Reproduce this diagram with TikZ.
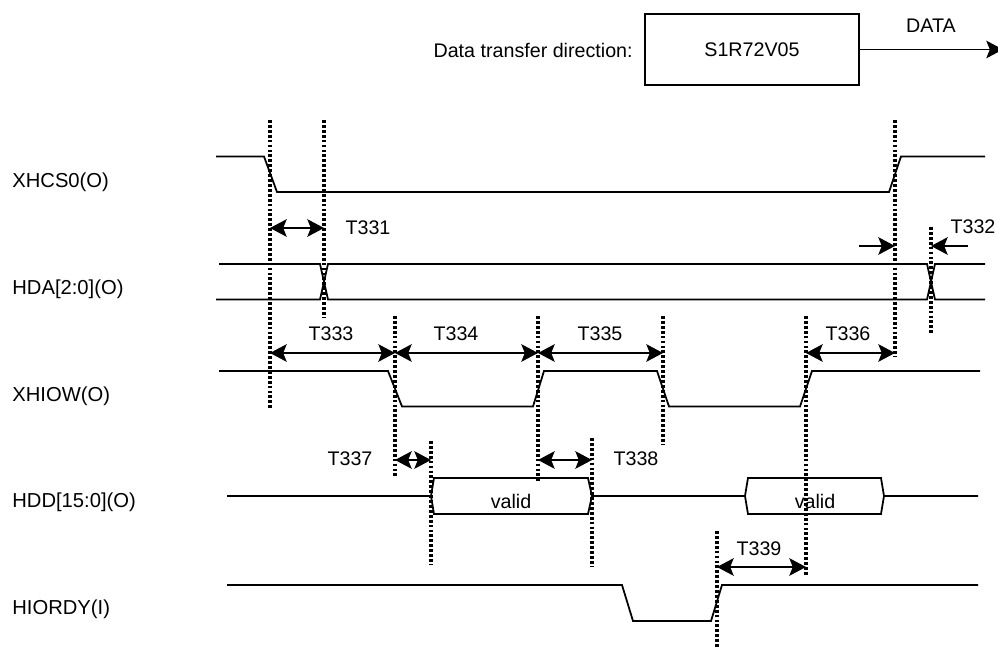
\documentclass[tikz,border=0pt]{standalone}
\usepackage{fontspec}
\setmainfont{Liberation Sans}
\usetikzlibrary{arrows.meta,positioning}
\tikzset{
  signal/.style={line width=1pt, line join=miter},
  guide/.style={line width=1.85pt, dash pattern=on 1.6pt off 1.2pt},
  span/.style={line width=1pt, {Stealth[length=9.5pt,width=10pt,inset=2pt]}-{Stealth[length=9.5pt,width=10pt,inset=2pt]}},
  pointer/.style={line width=1pt, -{Stealth[length=9.5pt,width=10pt,inset=2pt]}},
  txt/.style={font=\fontsize{11.2pt}{13pt}\selectfont, inner sep=0pt},
  signame/.style={font=\fontsize{11.5pt}{13pt}\selectfont, inner sep=0pt, anchor=west}
}
\begin{document}
\begin{tikzpicture}[x=0.02cm,y=-0.02cm]
\useasboundingbox (0,0) rectangle (998,648);

% Direction box
\node[txt, anchor=east] (dirlabel) at (633,50) {Data transfer direction:};
\node[txt, draw, line width=1.1pt, minimum width=4.28cm, minimum height=1.43cm] (chip) at (752,49.5) {S1R72V05};
\coordinate (dataend) at (1003,49.5);
\draw[pointer] (chip) -- (dataend);
\node[txt] (datalabel) at (931,26) {DATA};

% Signal names
\node[signame] (xhcs) at (12,182) {XHCS0(O)};
\node[signame] (hda) at (12,289) {HDA[2:0](O)};
\node[signame] (xhiow) at (12,396) {XHIOW(O)};
\node[signame] (hdd) at (12,502) {HDD[15:0](O)};
\node[signame] (hiordy) at (12,609) {HIORDY(I)};

% Waveforms
\draw[signal] (216,156.5) -- (264,156.5) -- (277,192) -- (889,192) -- (901,156.5) -- (985,156.5);
\draw[signal] (219,264) -- (320,264) -- (328,299.5) -- (927,299.5) -- (935,264) -- (985,264);
\draw[signal] (216,299.5) -- (320,299.5) -- (328,264) -- (927,264) -- (935,299.5) -- (985,299.5);
\draw[signal] (219,371) -- (388,371) -- (402,406.5) -- (533,406.5) -- (544,371) -- (657,371) -- (669,406.5) -- (800,406.5) -- (812,371) -- (980,371);
\draw[signal] (227,496) -- (431,496) -- (434,478) -- (588,478) -- (592,496) -- (745,496) -- (748,478) -- (881,478) -- (884,496) -- (978,496);
\draw[signal] (431,496) -- (434,514) -- (588,514) -- (592,496);
\draw[signal] (745,496) -- (748,514) -- (881,514) -- (884,496);
\draw[signal] (227,585) -- (622,585) -- (633,621) -- (711,621) -- (722,585) -- (978,585);

% Vertical guides
\coordinate (ga) at (270,120);
\coordinate (gb) at (324,120);
\coordinate (gc) at (395,316);
\coordinate (gd) at (431,441);
\coordinate (ge) at (538,316);
\coordinate (gf) at (592,438);
\coordinate (gg) at (663,316);
\coordinate (gh) at (717,531);
\coordinate (gi) at (806,316);
\coordinate (gj) at (895,120);
\coordinate (gk) at (931,227);
\draw[guide] (ga) -- (270,408);
\draw[guide] (gb) -- (324,318);
\draw[guide] (gc) -- (395,477);
\draw[guide] (gd) -- (431,565);
\draw[guide] (ge) -- (538,482);
\draw[guide] (gf) -- (592,567);
\draw[guide] (gg) -- (663,445);
\draw[guide] (gh) -- (717,648);
\draw[guide] (gi) -- (806,576);
\draw[guide] (gj) -- (895,357);
\draw[guide] (gk) -- (931,334);

% Spans
\coordinate (ya) at (0,228);
\coordinate (yb) at (0,353);
\coordinate (yc) at (0,460);
\coordinate (yd) at (0,567);
\draw[span] (ga |- ya) -- (gb |- ya);
\draw[span] (ga |- yb) -- (gc |- yb);
\draw[span] (gc |- yb) -- (ge |- yb);
\draw[span] (ge |- yb) -- (gg |- yb);
\draw[span] (gi |- yb) -- (gj |- yb);
\draw[span] (gc |- yc) -- (gd |- yc);
\draw[span] (ge |- yc) -- (gf |- yc);
\draw[span] (gh |- yd) -- (gi |- yd);

% T332 pointers
\coordinate (pl) at (859,246);
\coordinate (pr) at (968,246);
\draw[pointer] (pl) -- (gj |- pl);
\draw[pointer] (pr) -- (gk |- pr);

% Timing labels
\node[txt] (t331) at (368,228) {T331};
\node[txt] (t332) at (973,227) {T332};
\node[txt] (t333) at (331,334) {T333};
\node[txt] (t334) at (456,334) {T334};
\node[txt] (t335) at (600,334) {T335};
\node[txt] (t336) at (848,334) {T336};
\node[txt] (t337) at (350,459) {T337};
\node[txt] (t338) at (636,459) {T338};
\node[txt] (t339) at (759,549) {T339};
\node[txt] (valida) at (511,501) {valid};
\node[txt] (validb) at (815,501) {valid};

\end{tikzpicture}
\end{document}
